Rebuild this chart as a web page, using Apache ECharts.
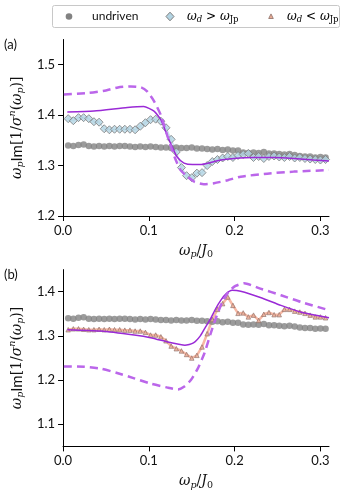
<!DOCTYPE html>
<html>
<head>
<meta charset="utf-8">
<script src="https://cdn.jsdelivr.net/npm/echarts@6/dist/echarts.min.js"></script>
<style>
  html, body { margin: 0; padding: 0; background: #fff; }
  #main { width: 346px; height: 496px; }
</style>
</head>
<body>
<div id="main"></div>
<script>
// probe frequencies shared by the measured series
const omega = [0.006, 0.012, 0.018, 0.024, 0.030, 0.036, 0.042, 0.048, 0.054, 0.060,
  0.066, 0.072, 0.078, 0.084, 0.090, 0.096, 0.102, 0.108, 0.114, 0.120,
  0.126, 0.132, 0.138, 0.144, 0.150, 0.156, 0.162, 0.168, 0.174, 0.180,
  0.186, 0.192, 0.198, 0.204, 0.210, 0.216, 0.222, 0.228, 0.234, 0.240,
  0.246, 0.252, 0.258, 0.264, 0.270, 0.276, 0.282, 0.288, 0.294, 0.300, 0.306];

const undriven = [1.340, 1.339, 1.341, 1.342, 1.339, 1.338, 1.339, 1.338, 1.339, 1.338,
  1.339, 1.339, 1.338, 1.337, 1.338, 1.337, 1.338, 1.337, 1.336, 1.336,
  1.335, 1.336, 1.335, 1.335, 1.336, 1.334, 1.334, 1.333, 1.332, 1.333,
  1.331, 1.332, 1.330, 1.330, 1.326, 1.325, 1.326, 1.325, 1.327, 1.324,
  1.324, 1.323, 1.322, 1.323, 1.321, 1.319, 1.318, 1.318, 1.316, 1.317, 1.316];

// (a) driven above the Josephson plasma frequency
const drivenAbove = [1.393, 1.389, 1.395, 1.395, 1.393, 1.387, 1.386, 1.373, 1.371, 1.372,
  1.372, 1.372, 1.372, 1.371, 1.378, 1.385, 1.391, 1.392, 1.388, 1.375,
  1.352, 1.327, 1.296, 1.280, 1.276, 1.285, 1.286, 1.300, 1.308, 1.312,
  1.315, 1.318, 1.316, 1.320, 1.322, 1.324, 1.316, 1.318, 1.314, 1.318,
  1.319, 1.317, 1.316, 1.318, 1.315, 1.316, 1.314, 1.313, 1.312, 1.311, 1.312];

// (b) driven below
const drivenBelow = [1.314, 1.316, 1.316, 1.315, 1.314, 1.314, 1.315, 1.314, 1.315, 1.314,
  1.314, 1.313, 1.313, 1.311, 1.311, 1.308, 1.302, 1.302, 1.298, 1.289,
  1.277, 1.271, 1.266, 1.258, 1.250, 1.256, 1.275, 1.305, 1.337, 1.360,
  1.373, 1.388, 1.369, 1.351, 1.352, 1.343, 1.347, 1.335, 1.349, 1.353,
  1.348, 1.348, 1.360, 1.360, 1.356, 1.354, 1.351, 1.347, 1.343, 1.343, 1.341];

// theory curves
const aSolidX = [0.005, 0.036, 0.075, 0.094, 0.106, 0.114, 0.122, 0.128, 0.133, 0.141, 0.151, 0.160, 0.170, 0.184, 0.199, 0.222, 0.246, 0.269, 0.292, 0.310];
const aSolidY = [1.406, 1.408, 1.415, 1.417, 1.408, 1.391, 1.357, 1.334, 1.317, 1.305, 1.302, 1.302, 1.305, 1.311, 1.314, 1.316, 1.316, 1.314, 1.311, 1.309];
const aDashX = [0.001, 0.030, 0.050, 0.064, 0.079, 0.091, 0.098, 0.106, 0.114, 0.122, 0.130, 0.137, 0.145, 0.153, 0.164, 0.176, 0.192, 0.207, 0.238, 0.269, 0.310];
const aDashY = [1.441, 1.444, 1.449, 1.455, 1.457, 1.455, 1.447, 1.428, 1.400, 1.357, 1.317, 1.291, 1.278, 1.268, 1.263, 1.265, 1.271, 1.278, 1.284, 1.288, 1.291];
const bSolidX = [0.005, 0.044, 0.083, 0.102, 0.125, 0.142, 0.152, 0.160, 0.166, 0.172, 0.178, 0.184, 0.190, 0.197, 0.207, 0.230, 0.254, 0.277, 0.310];
const bSolidY = [1.314, 1.311, 1.302, 1.296, 1.285, 1.279, 1.284, 1.300, 1.320, 1.339, 1.362, 1.381, 1.395, 1.403, 1.401, 1.387, 1.369, 1.354, 1.341];
const bDashX = [0.001, 0.025, 0.044, 0.063, 0.083, 0.102, 0.122, 0.134, 0.141, 0.149, 0.157, 0.165, 0.172, 0.179, 0.186, 0.193, 0.201, 0.211, 0.230, 0.254, 0.277, 0.310];
const bDashY = [1.231, 1.230, 1.226, 1.216, 1.204, 1.192, 1.183, 1.179, 1.185, 1.200, 1.226, 1.262, 1.305, 1.345, 1.378, 1.400, 1.413, 1.419, 1.407, 1.392, 1.377, 1.358];

const xTicks = [0, 0.1, 0.2, 0.3];
const aTicks = [1.2, 1.3, 1.4, 1.5];
const bTicks = [1.1, 1.2, 1.3, 1.4];

function zip(xs, ys) { return xs.map((x, i) => [x, ys[i]]); }

const sans = 'Lato';
const serif = 'DejaVu Serif';
const ink = '#111';
const mathRich = {
  i: { fontFamily: serif, fontStyle: 'italic', fontSize: 14, lineHeight: 18, color: ink },
  r: { fontFamily: serif, fontSize: 14, lineHeight: 18, color: ink },
  t: { fontFamily: sans, fontSize: 15, lineHeight: 18, color: ink },
  sb: { fontFamily: serif, fontStyle: 'italic', fontSize: 9.5, lineHeight: 10, verticalAlign: 'bottom', color: ink },
  sp: { fontFamily: serif, fontStyle: 'italic', fontSize: 9.5, lineHeight: 10, verticalAlign: 'top', color: ink },
  n: { fontFamily: serif, fontSize: 9.5, lineHeight: 10, verticalAlign: 'bottom', color: ink }
};
const legRich = {
  i: { fontFamily: serif, fontStyle: 'italic', fontSize: 12, lineHeight: 16, color: ink },
  r: { fontFamily: serif, fontSize: 12, lineHeight: 16, color: ink },
  sb: { fontFamily: serif, fontStyle: 'italic', fontSize: 8.5, lineHeight: 9, verticalAlign: 'bottom', color: ink },
  n: { fontFamily: serif, fontSize: 8.5, lineHeight: 9, verticalAlign: 'bottom', color: ink }
};
const yName = '{i|ω}{sb|p}{t|Im}{r|[1/}{i|σ}{sp|n}{r|(}{i|ω}{sb|p}{r|)]}';
const xName = '{i|ω}{sb|p}{r|/}{i|J}{n|0}';

function xAxisFor(idx) {
  return {
    type: 'value', gridIndex: idx, min: 0, max: 0.31,
    name: xName, nameLocation: 'middle', nameGap: 26,
    nameTextStyle: { rich: mathRich },
    axisLine: { lineStyle: { color: '#000', width: 1 } },
    axisTick: { length: 5, lineStyle: { color: '#000' }, customValues: xTicks },
    axisLabel: { customValues: xTicks, margin: 8, fontFamily: sans, fontSize: 13, color: ink,
      formatter: v => v.toFixed(1) },
    splitLine: { show: false }
  };
}
function yAxisFor(idx, min, max, ticks) {
  return {
    type: 'value', gridIndex: idx, min: min, max: max,
    name: yName, nameLocation: 'middle', nameGap: 30, nameRotate: 90,
    nameTextStyle: { rich: mathRich },
    axisLine: { show: true, lineStyle: { color: '#000', width: 1 } },
    axisTick: { show: true, length: 5, lineStyle: { color: '#000' }, customValues: ticks },
    axisLabel: { customValues: ticks, margin: 8, fontFamily: sans, fontSize: 13, color: ink,
      formatter: v => v.toFixed(1) },
    splitLine: { show: false }
  };
}

const greyDot = { color: '#828282' };
const blueDia = { color: '#b3d4e3', borderColor: '#7d7d7d', borderWidth: 1 };
const salmonTri = { color: '#eaab95', borderColor: '#8a6d66', borderWidth: 0.8 };

function theory(idx, xs, ys, dashed) {
  return {
    type: 'line', xAxisIndex: idx, yAxisIndex: idx, data: zip(xs, ys),
    showSymbol: false, smooth: 0.2, z: 4, silent: true,
    lineStyle: dashed
      ? { color: '#bb66ea', width: 2.5, type: [8, 5] }
      : { color: '#9a2ad6', width: 1.5 }
  };
}
function joinLine(idx, ys, color, width) {
  return {
    type: 'line', xAxisIndex: idx, yAxisIndex: idx, data: zip(omega, ys),
    showSymbol: false, silent: true, z: 2, lineStyle: { color: color, width: width }
  };
}

// legend box drawn as graphic so that its spacing follows the reference
const legendY = 16.5;
const legendGraphic = {
  type: 'group', z: 10,
  children: [
    { type: 'rect', shape: { x: 52.5, y: 5.5, width: 287, height: 22, r: 2 },
      style: { fill: '#fff', stroke: '#c8c8c8', lineWidth: 1 } },
    { type: 'circle', shape: { cx: 69, cy: legendY, r: 3.3 }, style: { fill: '#828282' } },
    { type: 'text', x: 92, y: legendY,
      style: { text: 'undriven', font: '12px Lato', fill: ink, verticalAlign: 'middle' } },
    { type: 'polygon', shape: { points: [[170, legendY - 4.3], [174, legendY], [170, legendY + 4.3], [166, legendY]] },
      style: { fill: '#b3d4e3', stroke: '#7d7d7d', lineWidth: 1 } },
    { type: 'text', x: 187, y: legendY,
      style: { text: '{i|ω}{sb|d}{r| > }{i|ω}{n|Jp}', rich: legRich, verticalAlign: 'middle' } },
    { type: 'polygon', shape: { points: [[271, legendY - 2.6], [273.3, legendY + 2], [268.7, legendY + 2]] },
      style: { fill: '#eaab95', stroke: '#8a6d66', lineWidth: 0.8 } },
    { type: 'text', x: 287, y: legendY,
      style: { text: '{i|ω}{sb|d}{r| < }{i|ω}{n|Jp}', rich: legRich, verticalAlign: 'middle' } }
  ]
};

const chart = echarts.init(document.getElementById('main'), null, { renderer: 'canvas' });
chart.setOption({
  animation: false,
  backgroundColor: '#fff',
  grid: [
    { left: 62, right: 17, top: 39.5, height: 176.5 },
    { left: 62, right: 17, top: 269.6, height: 176.8 }
  ],
  xAxis: [xAxisFor(0), xAxisFor(1)],
  yAxis: [yAxisFor(0, 1.2, 1.55, aTicks), yAxisFor(1, 1.05, 1.45, bTicks)],
  graphic: [
    legendGraphic,
    { type: 'text', left: 4, top: 38, style: { text: '(a)', font: '13px Lato', fill: ink } },
    { type: 'text', left: 4, top: 268, style: { text: '(b)', font: '13px Lato', fill: ink } }
  ],
  series: [
    { name: 'undriven', type: 'scatter', xAxisIndex: 0, yAxisIndex: 0, data: zip(omega, undriven),
      symbol: 'circle', symbolSize: 6.5, itemStyle: greyDot, z: 2 },
    joinLine(0, drivenAbove, '#c9e1ec', 1.5),
    { name: 'above', type: 'scatter', xAxisIndex: 0, yAxisIndex: 0, data: zip(omega, drivenAbove),
      symbol: 'diamond', symbolSize: 8, itemStyle: blueDia, z: 3 },
    theory(0, aSolidX, aSolidY, false),
    theory(0, aDashX, aDashY, true),
    { name: 'undriven', type: 'scatter', xAxisIndex: 1, yAxisIndex: 1, data: zip(omega, undriven),
      symbol: 'circle', symbolSize: 6.5, itemStyle: greyDot, z: 2 },
    joinLine(1, drivenBelow, '#f7b8a4', 2.5),
    { name: 'below', type: 'scatter', xAxisIndex: 1, yAxisIndex: 1, data: zip(omega, drivenBelow),
      symbol: 'triangle', symbolSize: 4.5, itemStyle: salmonTri, z: 3 },
    theory(1, bSolidX, bSolidY, false),
    theory(1, bDashX, bDashY, true)
  ]
});
</script>
</body>
</html>
